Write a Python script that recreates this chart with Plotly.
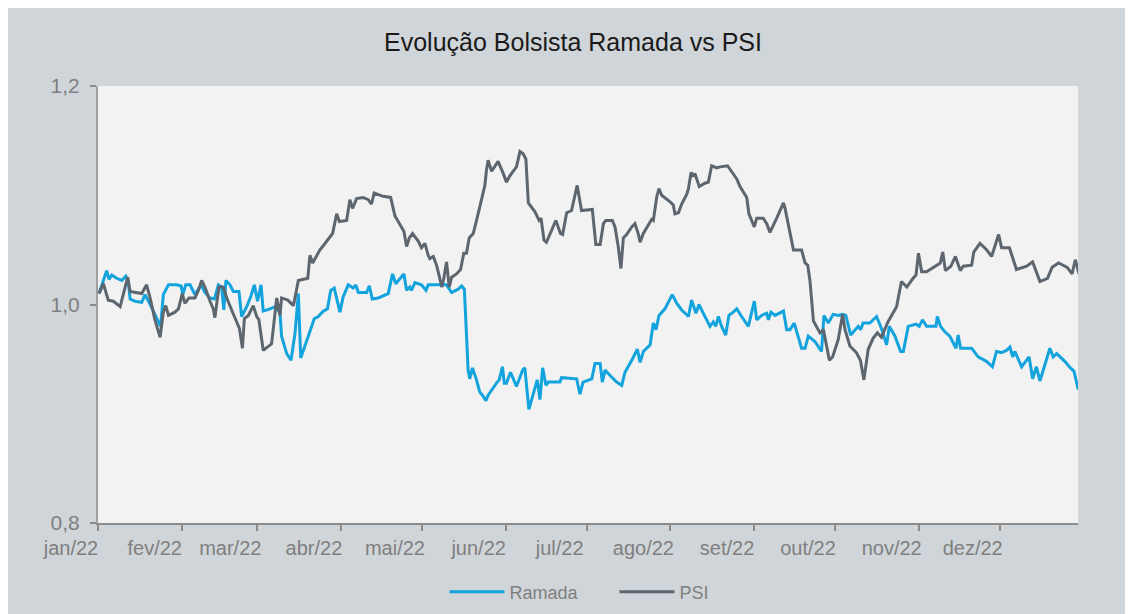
import pandas as pd
import plotly.graph_objects as go

# ---- data (day offset from 2022-01-01, normalised value) ----
ramada_day = [0.4, 3.2, 4.1, 5.1, 6.9, 8.8, 10.3, 11.2, 11.9, 13.7, 16.2, 17.4, 18.7, 23.2, 24.2, 26.1, 29.1, 30.8, 31.4, 32.5,
              34.1, 35.9, 38.2, 39.6, 41.5, 43.1, 44.6, 45.8, 46.6, 47.4, 48.9, 50.1, 52.2, 53.2, 55.1, 56.7, 57.9, 59.1, 60.4, 61.2,
              63.7, 65.6, 67.4, 68.0, 69.9, 71.5, 73.0, 74.2, 75.1, 76.9, 78.5, 80.1, 81.6, 83.5, 85.0, 86.2, 87.5, 89.6, 90.8, 92.7,
              94.5, 95.5, 96.4, 99.5, 100.5, 101.6, 103.8, 107.5, 109.1, 110.3, 113.3, 114.3, 115.5, 116.1, 117.4, 119.8, 121.5, 122.3, 129.1, 131.0,
              133.4, 134.7, 135.7, 137.1, 137.7, 138.7, 140.2, 141.4, 142.4, 143.7, 144.5, 145.8, 147.6, 148.6, 149.8, 150.5, 151.3, 152.8, 155.0, 157.3,
              158.1, 159.6, 161.2, 162.7, 163.7, 164.7, 165.9, 166.8, 171.1, 171.7, 177.3, 178.5, 179.7, 182.9, 184.1, 186.0, 186.8, 187.8, 189.7, 192.1,
              194.0, 195.2, 197.7, 199.8, 200.8, 202.0, 204.5, 205.7, 206.7, 207.8, 210.0, 212.7, 214.4, 216.2, 218.7, 219.9, 221.5, 222.6, 224.6, 226.7,
              227.9, 228.8, 229.8, 231.0, 232.5, 233.7, 235.3, 236.6, 238.4, 240.9, 243.1, 244.0, 245.8, 247.7, 248.3, 249.3, 250.8, 253.9, 255.1, 256.3,
              257.9, 259.4, 260.6, 261.9, 263.1, 265.6, 268.0, 268.9, 270.5, 272.3, 274.2, 275.8, 277.0, 278.8, 281.6, 282.5, 283.4, 285.9, 288.4, 290.2,
              292.1, 293.1, 295.2, 297.3, 298.3, 300.1, 303.0, 304.2, 305.4, 306.9, 310.4, 310.9, 312.1, 313.7, 315.5, 317.8, 318.6, 319.5, 323.6, 326.0,
              329.1, 331.3, 332.8, 334.7, 336.5, 337.8, 338.8, 339.6, 342.1, 344.9, 346.2, 347.6, 348.9, 352.6, 353.8, 355.1, 358.1, 360.2, 361.5, 363.1]
ramada_val = [1.010, 1.031, 1.023, 1.027, 1.024, 1.022, 1.026, 1.021, 1.005, 1.003, 1.002, 1.009, 1.003, 0.980, 1.009, 1.018, 1.018, 1.017, 1.009, 1.018,
              1.018, 1.009, 1.018, 1.011, 1.006, 1.005, 1.018, 1.016, 0.995, 1.022, 1.018, 1.012, 1.012, 0.989, 0.998, 1.008, 1.018, 1.003, 1.018, 0.994,
              0.996, 0.998, 0.993, 0.971, 0.955, 0.949, 0.974, 1.010, 0.951, 0.964, 0.977, 0.987, 0.989, 0.994, 0.996, 1.013, 1.015, 0.993, 1.007, 1.018,
              1.015, 1.018, 1.011, 1.011, 1.017, 1.005, 1.006, 1.010, 1.028, 1.019, 1.028, 1.013, 1.016, 1.013, 1.020, 1.018, 1.013, 1.018, 1.018, 1.011,
              1.014, 1.017, 1.014, 0.940, 0.932, 0.942, 0.931, 0.920, 0.917, 0.912, 0.917, 0.922, 0.928, 0.931, 0.943, 0.928, 0.928, 0.938, 0.925, 0.940,
              0.942, 0.904, 0.919, 0.931, 0.913, 0.942, 0.926, 0.929, 0.929, 0.933, 0.932, 0.918, 0.929, 0.932, 0.946, 0.946, 0.929, 0.940, 0.935, 0.929,
              0.926, 0.938, 0.949, 0.959, 0.947, 0.957, 0.963, 0.983, 0.977, 0.990, 0.996, 1.009, 1.001, 0.995, 0.989, 1.004, 0.992, 1.000, 0.990, 0.980,
              0.984, 0.980, 0.989, 0.980, 0.972, 0.990, 0.993, 0.996, 0.989, 0.980, 1.003, 0.986, 0.990, 0.992, 0.986, 0.993, 0.990, 0.994, 0.977, 0.977,
              0.983, 0.971, 0.960, 0.960, 0.971, 0.966, 0.957, 0.990, 0.983, 0.991, 0.990, 0.991, 0.990, 0.972, 0.980, 0.977, 0.983, 0.983, 0.989, 0.978,
              0.963, 0.980, 0.971, 0.957, 0.957, 0.980, 0.982, 0.980, 0.986, 0.980, 0.980, 0.989, 0.980, 0.975, 0.971, 0.960, 0.972, 0.960, 0.960, 0.952,
              0.948, 0.943, 0.957, 0.956, 0.958, 0.961, 0.952, 0.957, 0.943, 0.952, 0.932, 0.943, 0.930, 0.960, 0.952, 0.955, 0.948, 0.942, 0.939, 0.922]

psi_day = [0.4, 2.0, 3.8, 5.7, 8.2, 9.4, 11.0, 11.9, 14.3, 16.2, 18.0, 19.3, 21.1, 23.0, 24.2, 25.1, 26.1, 28.5, 29.8, 31.2,
           32.2, 33.7, 35.9, 37.2, 38.4, 39.6, 41.5, 42.7, 43.3, 44.8, 46.4, 47.7, 49.5, 51.4, 52.4, 53.5, 54.2, 55.7, 57.5, 58.8,
           59.6, 61.2, 64.3, 66.2, 67.4, 68.0, 70.3, 72.4, 74.2, 77.7, 78.5, 79.5, 82.2, 83.5, 85.9, 86.9, 88.4, 89.4, 92.1, 93.3,
           94.3, 95.8, 98.2, 100.1, 101.3, 102.3, 105.6, 108.4, 110.0, 111.8, 113.3, 114.3, 115.3, 116.5, 118.6, 119.8, 121.1, 122.3, 122.9, 124.2,
           125.4, 126.6, 127.3, 128.1, 129.1, 130.1, 131.0, 132.8, 134.3, 135.5, 136.5, 137.5, 139.0, 140.8, 142.1, 143.3, 143.9, 144.5, 145.8, 146.4,
           148.2, 150.1, 151.3, 152.6, 155.0, 156.3, 157.5, 158.5, 159.4, 161.8, 163.4, 164.1, 165.2, 166.1, 168.0, 169.6, 171.3, 172.1, 173.6, 175.4,
           177.5, 179.1, 183.1, 184.4, 186.0, 187.2, 188.1, 190.5, 191.5, 192.7, 193.7, 194.6, 195.8, 197.7, 198.9, 200.2, 200.8, 202.0, 203.9, 205.1,
           205.7, 207.0, 207.8, 208.8, 211.9, 213.1, 213.7, 215.0, 216.2, 218.1, 218.7, 219.7, 220.5, 221.1, 222.7, 224.8, 226.1, 227.3, 229.2, 230.4,
           233.2, 235.3, 236.6, 237.8, 239.0, 240.3, 241.1, 241.9, 243.1, 244.0, 246.4, 247.7, 248.9, 251.4, 253.9, 254.5, 255.7, 257.6, 260.6, 261.9,
           262.9, 263.7, 265.0, 267.4, 268.7, 269.6, 270.9, 272.1, 274.2, 275.8, 276.7, 278.5, 280.9, 282.4, 283.7, 285.3, 287.1, 288.7, 290.2, 292.6,
           295.8, 297.6, 299.6, 301.9, 303.0, 303.9, 305.1, 306.9, 310.0, 312.0, 312.9, 313.9, 315.9, 317.6, 319.4, 320.5, 323.6, 324.4, 326.7, 329.2,
           331.0, 333.6, 334.7, 337.6, 340.2, 344.0, 346.2, 348.9, 351.7, 353.4, 355.8, 359.0, 360.8, 362.0, 363.4]
psi_val = [1.010, 1.019, 1.004, 1.003, 0.998, 1.010, 1.025, 1.012, 1.011, 1.010, 1.018, 1.006, 0.986, 0.970, 0.993, 0.999, 0.990, 0.993, 0.996, 1.010,
           1.001, 1.006, 1.006, 1.013, 1.022, 1.016, 1.003, 0.996, 0.988, 1.016, 1.016, 1.006, 0.995, 0.984, 0.978, 0.960, 0.987, 0.990, 0.999, 0.989,
           0.986, 0.958, 0.964, 1.006, 0.990, 1.006, 1.004, 0.999, 1.022, 1.024, 1.045, 1.038, 1.050, 1.054, 1.062, 1.065, 1.083, 1.076, 1.077, 1.096,
           1.088, 1.097, 1.098, 1.096, 1.092, 1.102, 1.099, 1.098, 1.081, 1.074, 1.067, 1.053, 1.061, 1.065, 1.058, 1.052, 1.056, 1.045, 1.042, 1.044,
           1.036, 1.024, 1.016, 1.024, 1.039, 1.016, 1.025, 1.028, 1.032, 1.047, 1.047, 1.061, 1.065, 1.083, 1.096, 1.109, 1.123, 1.132, 1.122, 1.124,
           1.131, 1.120, 1.112, 1.118, 1.126, 1.140, 1.138, 1.133, 1.093, 1.085, 1.077, 1.079, 1.059, 1.057, 1.068, 1.077, 1.065, 1.064, 1.084, 1.086,
           1.109, 1.086, 1.087, 1.055, 1.055, 1.074, 1.077, 1.077, 1.071, 1.053, 1.033, 1.061, 1.064, 1.071, 1.074, 1.064, 1.057, 1.065, 1.073, 1.078,
           1.077, 1.099, 1.106, 1.100, 1.094, 1.091, 1.083, 1.084, 1.092, 1.101, 1.106, 1.121, 1.117, 1.120, 1.108, 1.111, 1.112, 1.127, 1.125, 1.126,
           1.127, 1.120, 1.115, 1.108, 1.103, 1.098, 1.083, 1.078, 1.071, 1.079, 1.079, 1.074, 1.066, 1.079, 1.093, 1.088, 1.072, 1.050, 1.050, 1.038,
           1.036, 1.022, 0.985, 0.974, 0.977, 0.966, 0.949, 0.952, 0.968, 0.991, 0.977, 0.962, 0.956, 0.949, 0.931, 0.959, 0.969, 0.974, 0.970, 0.984,
           0.998, 1.021, 1.016, 1.024, 1.027, 1.047, 1.030, 1.030, 1.035, 1.038, 1.048, 1.031, 1.035, 1.044, 1.031, 1.035, 1.036, 1.048, 1.056, 1.050,
           1.044, 1.064, 1.052, 1.052, 1.032, 1.035, 1.039, 1.021, 1.024, 1.034, 1.038, 1.034, 1.028, 1.041, 1.028]

month_ticks = ["2022-01-01", "2022-02-01", "2022-03-01", "2022-04-01", "2022-05-01", "2022-06-01",
               "2022-07-01", "2022-08-01", "2022-09-01", "2022-10-01", "2022-11-01", "2022-12-01"]
month_labels = ["jan/22", "fev/22", "mar/22", "abr/22", "mai/22", "jun/22",
                "jul/22", "ago/22", "set/22", "out/22", "nov/22", "dez/22"]
y_ticks = [0.8, 1.0, 1.2]
y_labels = ["0,8", "1,0", "1,2"]

base = pd.Timestamp("2022-01-01")
ramada_x = base + pd.to_timedelta(ramada_day, unit="D")
psi_x = base + pd.to_timedelta(psi_day, unit="D")

FONT = "Liberation Sans, Arial, sans-serif"
LABEL = "#7f7f7f"
AXIS = "#8c8c8c"

fig = go.Figure()
fig.add_trace(go.Scatter(x=ramada_x, y=ramada_val, mode="lines", name="Ramada",
                         line=dict(color="#13a3dd", width=3)))
fig.add_trace(go.Scatter(x=psi_x, y=psi_val, mode="lines", name="PSI",
                         line=dict(color="#5d666e", width=3)))

fig.update_layout(
    width=1133, height=614, autosize=False,
    margin=dict(l=90, r=63, t=78, b=99),
    paper_bgcolor="#d0d5d9", plot_bgcolor="#f2f2f2",
    title=dict(text="Evolução Bolsista Ramada vs PSI", x=0.4987, y=0.9446,
               xref="container", yref="container", xanchor="center", yanchor="middle",
               font=dict(family=FONT, size=25, color="#1a1a1a")),
    font=dict(family=FONT),
    showlegend=True,
    legend=dict(orientation="h", x=0.527, y=-0.158, xanchor="center", yanchor="middle",
                font=dict(size=18, color=LABEL), itemwidth=55, bgcolor="rgba(0,0,0,0)",
                entrywidth=100, entrywidthmode="pixels", traceorder="normal"),
    xaxis=dict(type="date", range=["2022-01-01", "2022-12-30"],
               tickmode="array", tickvals=month_ticks, ticktext=month_labels,
               ticks="outside", ticklen=6, tickwidth=2, tickcolor=AXIS,
               showline=True, linecolor=AXIS, linewidth=2, showgrid=False, zeroline=False,
               tickfont=dict(size=20, color=LABEL), ticklabelshift=-27),
    yaxis=dict(range=[0.8, 1.2], tickmode="array", tickvals=y_ticks, ticktext=y_labels,
               ticks="outside", ticklen=6, tickwidth=2, tickcolor=AXIS,
               showline=True, linecolor="#a0a0a0", linewidth=2, showgrid=False, zeroline=False,
               tickfont=dict(size=21, color=LABEL), ticklabelstandoff=6),
)

fig.write_html("out.html")
